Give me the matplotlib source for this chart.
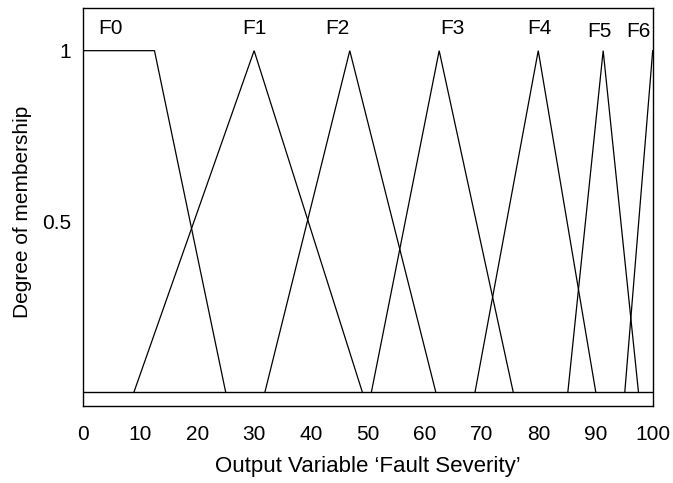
import matplotlib
matplotlib.use("Agg")
import matplotlib.pyplot as plt

plt.rcParams['font.family'] = ['Liberation Sans', 'DejaVu Sans']

# Membership functions (x breakpoints, y values)
names = ["F0", "F1", "F2", "F3", "F4", "F5", "F6"]
xs = [
    [0, 12.5, 25.0],
    [8.9, 30.0, 49.0],
    [31.9, 46.8, 61.9],
    [50.6, 62.5, 75.5],
    [68.8, 79.9, 90.0],
    [85.1, 91.3, 97.5],
    [95.1, 100.0],
]
ys = [
    [1, 1, 0],
    [0, 1, 0],
    [0, 1, 0],
    [0, 1, 0],
    [0, 1, 0],
    [0, 1, 0],
    [0, 1],
]
label_x = [4.8, 30.0, 44.7, 64.9, 80.1, 90.6, 97.5]
label_y = [1.065, 1.065, 1.065, 1.065, 1.065, 1.057, 1.057]

xticks = [0, 10, 20, 30, 40, 50, 60, 70, 80, 90, 100]
yticks = [0.5, 1]
yticklabels = ["0.5", "1"]

FS = 15

fig = plt.figure(figsize=(6.73, 4.83), dpi=100)
ax = fig.add_axes([83.3/673, 1 - 406/483, (652.7-83.3)/673, (406-8)/483])

for x, y in zip(xs, ys):
    ax.plot(x, y, color='black', lw=0.9, solid_joinstyle='miter')
ax.axhline(0, color='black', lw=1.0)

for n, lx, ly in zip(names, label_x, label_y):
    ax.text(lx, ly, n, ha='center', va='center', fontsize=FS)

ax.set_xlim(0, 100)
ax.set_ylim(-0.041, 1.125)
ax.set_xticks(xticks)
ax.set_xticklabels([str(t) for t in xticks], fontsize=FS)
ax.set_yticks(yticks)
ax.set_yticklabels(yticklabels, fontsize=FS)
ax.tick_params(axis='both', length=0)
ax.tick_params(axis='x', pad=14)
ax.tick_params(axis='y', pad=9)
for s in ax.spines.values():
    s.set_linewidth(1.0)
    s.set_color('black')

ax.set_xlabel("Output Variable \u2018Fault Severity\u2019", fontsize=16, labelpad=8)
fig.text(23/673, 1 - 211.5/483, "Degree of membership", rotation=90,
         ha='center', va='center', fontsize=FS)

fig.savefig("out.png", dpi=100)
